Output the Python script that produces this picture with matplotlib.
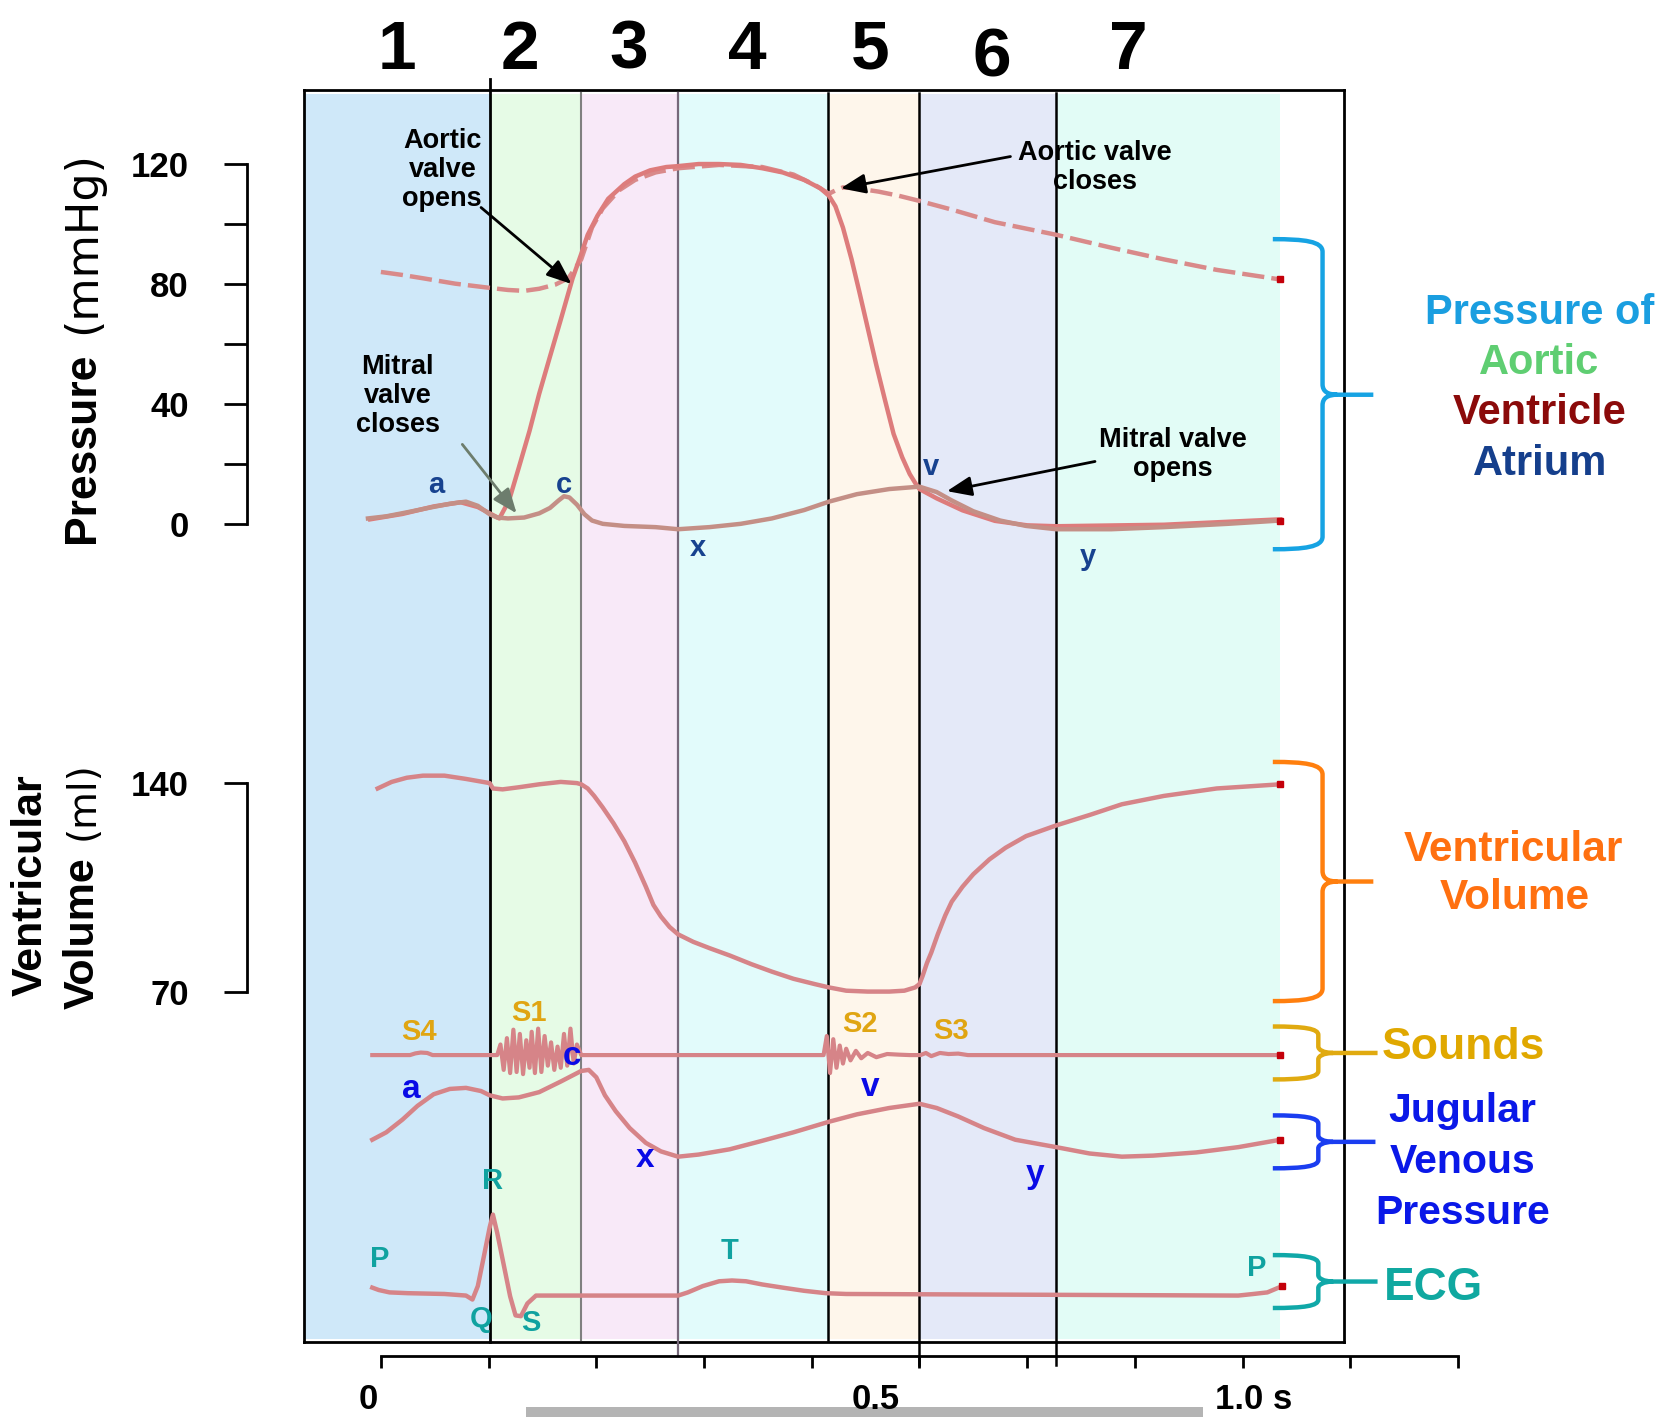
import matplotlib
matplotlib.use('Agg')
import matplotlib.pyplot as plt
from matplotlib import font_manager
from matplotlib.path import Path
from matplotlib.patches import PathPatch, Rectangle

# ---------------- data ----------------
phase_names = ['1', '2', '3', '4', '5', '6', '7']
phase_edges = [-0.072, 0.101, 0.186, 0.276, 0.415, 0.500, 0.627, 0.835]

# pressures, mmHg
t_aorta = [0.000, 0.020, 0.039, 0.069, 0.101, 0.118, 0.133, 0.147, 0.162, 0.174,
           0.186, 0.196, 0.206, 0.221, 0.236, 0.255, 0.276, 0.314, 0.354, 0.383,
           0.403, 0.416, 0.422, 0.429, 0.442, 0.462, 0.481, 0.500, 0.530, 0.570,
           0.627, 0.678, 0.727, 0.776, 0.835]
p_aorta = [84.0, 83.0, 81.9, 80.1, 78.7, 78.0, 77.7, 78.4, 79.8, 81.9,
           88.2, 98.8, 105.2, 111.2, 114.7, 117.2, 118.6, 119.7, 119.0, 116.5,
           113.0, 110.1, 111.2, 112.2, 111.9, 110.8, 109.4, 107.7, 104.8, 100.6,
           96.4, 92.1, 88.2, 84.7, 81.5]

t_ventricle = [-0.010, 0.020, 0.049, 0.074, 0.090, 0.101, 0.110, 0.119, 0.128, 0.138,
               0.147, 0.157, 0.167, 0.178, 0.186, 0.192, 0.201, 0.211, 0.226, 0.236,
               0.250, 0.265, 0.276, 0.295, 0.314, 0.334, 0.354, 0.373, 0.393, 0.408,
               0.416, 0.422, 0.429, 0.437, 0.444, 0.452, 0.460, 0.468, 0.476, 0.484,
               0.491, 0.497, 0.500, 0.516, 0.540, 0.570, 0.600, 0.627, 0.727, 0.835]
p_ventricle = [1.5, 3.3, 5.8, 7.2, 5.6, 3.5, 1.8, 7.8, 18.7, 31.0,
               43.4, 55.8, 68.1, 81.9, 90.0, 96.4, 102.7, 108.4, 113.3, 115.8,
               117.9, 119.0, 119.3, 120.0, 120.0, 119.7, 118.6, 117.2, 114.7, 111.9,
               109.4, 105.9, 98.8, 88.2, 77.7, 65.3, 52.9, 41.3, 30.0, 22.2,
               16.6, 13.1, 11.6, 8.5, 4.5, 1.0, -0.5, -0.8, -0.3, 1.5]

t_atrium = [-0.012, 0.005, 0.025, 0.044, 0.064, 0.079, 0.090, 0.101, 0.108, 0.118,
            0.133, 0.147, 0.157, 0.165, 0.170, 0.175, 0.182, 0.189, 0.196, 0.206,
            0.226, 0.255, 0.276, 0.305, 0.334, 0.363, 0.393, 0.416, 0.442, 0.472,
            0.500, 0.516, 0.530, 0.550, 0.575, 0.599, 0.627, 0.678, 0.727, 0.786,
            0.835]
p_atrium = [1.8, 2.5, 3.9, 5.3, 6.7, 7.4, 6.0, 3.2, 2.1, 1.8,
            2.1, 3.5, 5.3, 7.8, 9.2, 8.8, 6.4, 3.2, 1.1, 0.0,
            -0.7, -1.1, -1.8, -1.1, 0.0, 1.8, 4.6, 7.4, 9.9, 11.6,
            12.4, 10.6, 7.8, 4.2, 1.1, -0.7, -1.8, -1.8, -1.1, 0.0,
            1.1]

# ventricular volume, ml
t_volume = [-0.003, 0.010, 0.024, 0.039, 0.059, 0.079, 0.101, 0.104, 0.113, 0.128,
            0.147, 0.167, 0.182, 0.186, 0.192, 0.198, 0.206, 0.216, 0.226, 0.236,
            0.246, 0.253, 0.260, 0.268, 0.276, 0.290, 0.305, 0.324, 0.344, 0.363,
            0.383, 0.403, 0.416, 0.432, 0.452, 0.472, 0.486, 0.496, 0.500, 0.503,
            0.507, 0.511, 0.517, 0.524, 0.530, 0.540, 0.550, 0.565, 0.580, 0.599,
            0.627, 0.658, 0.688, 0.727, 0.776, 0.835]
v_volume = [138.2, 140.4, 141.8, 142.5, 142.5, 141.4, 140.0, 138.2, 137.9, 138.6,
            139.6, 140.4, 140.0, 139.6, 138.2, 135.7, 131.8, 126.5, 120.5, 113.3,
            105.2, 99.1, 95.2, 91.7, 89.2, 86.7, 84.6, 82.1, 79.2, 76.7,
            74.3, 72.5, 71.4, 70.3, 70.0, 70.0, 70.3, 71.4, 72.5, 75.3,
            79.6, 83.1, 89.2, 95.6, 100.2, 105.2, 109.4, 114.4, 118.3, 122.2,
            125.8, 129.3, 132.9, 135.7, 138.2, 139.6]

# heart sounds, relative amplitude
t_sound = [-0.008, 0.027, 0.032, 0.037, 0.043, 0.048, 0.101, 0.108, 0.111, 0.114,
           0.117, 0.120, 0.123, 0.126, 0.129, 0.132, 0.135, 0.138, 0.140, 0.143,
           0.146, 0.149, 0.152, 0.155, 0.158, 0.161, 0.164, 0.167, 0.170, 0.173,
           0.176, 0.179, 0.182, 0.186, 0.411, 0.414, 0.417, 0.420, 0.423, 0.426,
           0.429, 0.432, 0.436, 0.441, 0.446, 0.452, 0.460, 0.470, 0.481, 0.491,
           0.501, 0.506, 0.511, 0.519, 0.527, 0.536, 0.545, 0.835]
a_sound = [0.0, 0.0, 0.08, 0.12, 0.10, 0.0, 0.0, 0.0, 0.5, -0.7,
           0.8, -0.85, 1.2, -0.8, 1.0, -0.9, 0.7, -0.6, 1.1, -0.85,
           1.25, -0.8, 0.9, -0.5, 0.6, -0.7, 0.4, -0.6, 1.0, -0.5,
           1.25, -0.4, 0.5, 0.0, 0.0, 0.9, -0.85, 0.75, -0.6, 0.45,
           -0.4, 0.3, -0.25, 0.2, -0.15, 0.1, -0.1, 0.05, 0.02, 0.0,
           0.0, 0.1, -0.05, 0.1, 0.05, 0.07, 0.0, 0.0]

# jugular venous pressure, relative units
t_jvp = [-0.008, 0.005, 0.020, 0.034, 0.049, 0.064, 0.079, 0.093, 0.101, 0.113,
         0.128, 0.147, 0.167, 0.186, 0.193, 0.200, 0.208, 0.218, 0.231, 0.246,
         0.260, 0.276, 0.295, 0.324, 0.354, 0.383, 0.416, 0.442, 0.472, 0.500,
         0.516, 0.536, 0.560, 0.589, 0.627, 0.658, 0.688, 0.717, 0.757, 0.796,
         0.835]
v_jvp = [2.3, 3.0, 4.2, 5.5, 6.6, 7.1, 7.2, 6.9, 6.5, 6.2,
         6.3, 6.8, 7.8, 8.8, 8.9, 8.2, 6.5, 5.0, 3.4, 2.0,
         1.2, 0.7, 0.9, 1.4, 2.2, 3.0, 4.0, 4.7, 5.3, 5.7,
         5.3, 4.5, 3.4, 2.3, 1.6, 1.0, 0.7, 0.8, 1.1, 1.6,
         2.3]

# ECG, mV
t_ecg = [-0.008, -0.002, 0.008, 0.025, 0.059, 0.079, 0.085, 0.090, 0.096, 0.101,
         0.104, 0.108, 0.114, 0.120, 0.125, 0.130, 0.136, 0.144, 0.276, 0.285,
         0.299, 0.314, 0.326, 0.339, 0.354, 0.373, 0.393, 0.413, 0.432, 0.796,
         0.810, 0.823, 0.837]
v_ecg = [0.11, 0.08, 0.05, 0.04, 0.03, 0.01, -0.04, 0.13, 0.53, 0.87,
         1.03, 0.8, 0.4, 0.0, -0.24, -0.25, -0.09, 0.01, 0.01, 0.05,
         0.13, 0.19, 0.20, 0.19, 0.15, 0.11, 0.07, 0.04, 0.03, 0.01,
         0.03, 0.05, 0.13]

time_ticks = [0.0, 0.1, 0.2, 0.3, 0.4, 0.5, 0.6, 0.7, 0.8, 0.9, 1.0]
pressure_ticks = [0, 40, 80, 120]
pressure_minor = [20, 60, 100]
volume_ticks = [70, 140]

# ---------------- layout helpers (reference pixel grid) ----------------
W, H = 1568.0, 1339.0
T0_PX, PX_PER_S = 360.0, 1018.0


def px2t(x):
    return (x - T0_PX) / PX_PER_S


def fig_rect(x0, y0, x1, y1):
    return [x0 / W, 1 - y1 / H, (x1 - x0) / W, (y1 - y0) / H]


names = {f.name for f in font_manager.fontManager.ttflist}
BOLD = 'Liberation Sans' if 'Liberation Sans' in names else 'DejaVu Sans'

fig = plt.figure(figsize=(16.59, 14.17), dpi=100)

# frame with coloured phases
phase_colors = ['#cfe8f9', '#e6fbe6', '#f8e9f8', '#e2fbfb', '#fef6eb', '#e4e9f8', '#e2fcf6']
fr = fig.add_axes(fig_rect(287, 85, 1270, 1268), zorder=0)
fr.set_xlim(px2t(287), px2t(1270))
fr.set_ylim(0, 1)
fr.set_xticks([])
fr.set_yticks([])
for s in fr.spines.values():
    s.set_linewidth(2)
for i, c in enumerate(phase_colors):
    fr.axvspan(phase_edges[i], phase_edges[i + 1], ymin=0.002, ymax=0.997, color=c, lw=0)


def yfrac(ypx):
    return (1268 - ypx) / (1268 - 85)


line_specs = [(phase_edges[1], 'black', 2.0, 75, 1268),
              (phase_edges[2], '#808080', 1.5, 88, 1266),
              (phase_edges[3], '#76687a', 1.6, 88, 1281),
              (phase_edges[4], 'black', 1.8, 88, 1266),
              (phase_edges[5], 'black', 1.8, 88, 1290),
              (phase_edges[6], 'black', 1.8, 88, 1290)]
for t, c, lw, y0, y1 in line_specs:
    fr.axvline(t, ymin=yfrac(y1), ymax=yfrac(y0), color=c, lw=lw, clip_on=False, zorder=3)


def panel(v_a, y_a, v_b, y_b, lo, hi, z=2):
    k = (y_a - y_b) / (v_b - v_a)
    ytop = y_a - (hi - v_a) * k
    ybot = y_a + (v_a - lo) * k
    ax = fig.add_axes(fig_rect(233, ytop, 1270, ybot), zorder=z)
    ax.set_xlim(px2t(233), px2t(1270))
    ax.set_ylim(lo, hi)
    ax.patch.set_visible(False)
    for s in ax.spines.values():
        s.set_visible(False)
    ax.set_xticks([])
    ax.set_yticks([])
    return ax


TRACE = '#d68488'
LW = 3.2


def end_mark(ax, t, v):
    ax.plot(t[-1:], v[-1:], 's', ms=5, color='#c4000a', zorder=5)


def label(ax, t, v, s, color, size, **kw):
    ax.text(t, v, s, color=color, fontsize=size, fontfamily=BOLD, fontweight='bold',
            ha='center', va='center', **kw)


# ---------------- pressure panel ----------------
axp = panel(0, 495, 120, 155, -20, 135)
axp.plot(t_aorta, p_aorta, color='#d98a8a', lw=LW, ls=(0, (5, 1.6)))
axp.plot(t_ventricle, p_ventricle, color='#dd7c7c', lw=LW)
axp.plot(t_atrium, p_atrium, color='#c48f86', lw=LW)
end_mark(axp, t_aorta, p_aorta)
end_mark(axp, t_atrium, p_atrium)
axp.spines['left'].set_visible(True)
axp.spines['left'].set_linewidth(2)
axp.spines['left'].set_bounds(0, 120)
axp.set_yticks(pressure_ticks, labels=[str(v) for v in pressure_ticks],
               fontfamily=BOLD, fontweight='bold', fontsize=25)
axp.set_yticks(pressure_minor, minor=True)
axp.tick_params(axis='y', which='both', direction='out', length=16.5, width=2, pad=25)

navy = '#17428f'
for s, t, v in [('a', 0.051, 13), ('c', 0.170, 13), ('x', 0.294, -8), ('v', 0.511, 19), ('y', 0.656, -11)]:
    label(axp, t, v, s, navy, 21)

ann_kw = dict(fontsize=19.5, fontfamily=BOLD, fontweight='bold', ha='center', va='center',
              linespacing=1.15, zorder=6)
axp.text(0.057, 118, 'Aortic\nvalve\nopens', **ann_kw)
axp.text(0.0157, 42.7, 'Mitral\nvalve\ncloses', **ann_kw)
axp.text(0.663, 119, 'Aortic valve\ncloses', **ann_kw)
axp.text(0.735, 23, 'Mitral valve\nopens', **ann_kw)


def arrow(ax, xy, xyt, color='black'):
    ax.annotate('', xy=xy, xytext=xyt, annotation_clip=False,
                arrowprops=dict(arrowstyle='-|>,head_length=0.75,head_width=0.3', color=color,
                                lw=2, shrinkA=0, shrinkB=0, mutation_scale=20))


arrow(axp, (0.177, 80), (0.093, 105.5))
arrow(axp, (0.126, 3.5), (0.0756, 26.5), color='#6d7d6d')
arrow(axp, (0.427, 111.9), (0.5845, 122.5))
arrow(axp, (0.5255, 10.9), (0.663, 20.8))

# ---------------- volume panel ----------------
axv = panel(70, 937, 140, 740, 60, 150)
axv.plot(t_volume, v_volume, color=TRACE, lw=LW)
end_mark(axv, t_volume, v_volume)
axv.spines['left'].set_visible(True)
axv.spines['left'].set_linewidth(2)
axv.spines['left'].set_bounds(70, 140)
axv.set_yticks(volume_ticks, labels=[str(v) for v in volume_ticks],
               fontfamily=BOLD, fontweight='bold', fontsize=25)
axv.tick_params(axis='y', direction='out', length=16.5, width=2, pad=25)

# ---------------- sounds, JVP, ECG ----------------
axs = panel(0, 997, 1, 977, -1.5, 1.5, z=3)
axs.plot(t_sound, a_sound, color=TRACE, lw=3.0)
end_mark(axs, t_sound, a_sound)
gold = '#e0a512'
for s, t, v in [('S4', 0.035, 1.1), ('S1', 0.1375, 2.0), ('S2', 0.445, 1.45), ('S3', 0.529, 1.15)]:
    label(axs, t, v, s, gold, 21)

axj = panel(0, 1100, 10, 1000, -1, 11, z=4)
axj.plot(t_jvp, v_jvp, color=TRACE, lw=LW)
end_mark(axj, t_jvp, v_jvp)
blue = '#0a0ae6'
for s, t, v in [('a', 0.0285, 7.0), ('c', 0.177, 10.2), ('x', 0.245, 0.5), ('v', 0.454, 7.2), ('y', 0.607, -1.0)]:
    label(axj, t, v, s, blue, 24, zorder=6)

axe = panel(0, 1225, 1, 1150, -0.5, 1.3, z=2)
axe.plot(t_ecg, v_ecg, color=TRACE, lw=LW)
end_mark(axe, t_ecg, v_ecg)
teal = '#10a2a0'
for s, t, v in [('P', -0.001, 0.47), ('Q', 0.093, -0.28), ('R', 0.104, 1.45), ('S', 0.139, -0.33),
                ('T', 0.324, 0.57), ('P', 0.813, 0.36)]:
    label(axe, t, v, s, teal, 21)

# ---------------- time axis ----------------
axt = fig.add_axes(fig_rect(287, 1271, 1420, 1281), zorder=2)
axt.set_xlim(px2t(287), px2t(1420))
axt.patch.set_visible(False)
for k in ['top', 'left', 'right']:
    axt.spines[k].set_visible(False)
axt.spines['bottom'].set_linewidth(2)
axt.spines['bottom'].set_bounds(time_ticks[0], time_ticks[-1])
axt.set_yticks([])
axt.set_xticks(time_ticks, labels=[''] * len(time_ticks))
axt.tick_params(axis='x', direction='out', length=8.5, width=2)

# ---------------- overlay canvas: titles, labels, braces ----------------
cv = fig.add_axes([0, 0, 1, 1], zorder=5)
cv.set_xlim(0, W)
cv.set_ylim(H, 0)
cv.axis('off')

for s, x, y in zip(phase_names, [375, 491, 594, 706, 822, 937, 1066], [48, 48, 48, 48, 48, 55, 48]):
    label(cv, x, y, s, 'black', 50)

for s, x in [('0', 348), ('0.5', 828), ('1.0 s', 1185)]:
    label(cv, x, 1322, s, 'black', 25)
cv.add_patch(Rectangle((497, 1330), 640, 12, color='#b4b4b4', lw=0, clip_on=False))

cv.text(78, 423, 'Pressure', rotation=90, fontsize=32, fontfamily=BOLD, fontweight='bold',
        ha='center', va='center')
cv.text(78, 229, '(mmHg)', rotation=90, fontsize=32, fontfamily='DejaVu Sans',
        ha='center', va='center')
cv.text(29, 836, 'Ventricular', rotation=90, fontsize=31, fontfamily=BOLD, fontweight='bold',
        ha='center', va='center')
cv.text(78, 882, 'Volume', rotation=90, fontsize=31, fontfamily=BOLD, fontweight='bold',
        ha='center', va='center')
cv.text(78, 757, '(ml)', rotation=90, fontsize=28, fontfamily='DejaVu Sans',
        ha='center', va='center')


def brace(ax, y_top, y_bot, y_tip, color, x_left=1203, x_v=1250, x_tip=1298, r=10):
    verts = [(x_left, y_top), (x_left + 30, y_top), (x_v, y_top + 2), (x_v, y_top + r + 2),
             (x_v, y_tip - r),
             (x_v, y_tip - 3), (x_v + 5, y_tip), (x_v + 14, y_tip),
             (x_tip, y_tip),
             (x_v + 14, y_tip),
             (x_v + 5, y_tip), (x_v, y_tip + 3), (x_v, y_tip + r),
             (x_v, y_bot - r - 2),
             (x_v, y_bot - 2), (x_left + 30, y_bot), (x_left, y_bot)]
    codes = [Path.MOVETO, Path.CURVE4, Path.CURVE4, Path.CURVE4,
             Path.LINETO,
             Path.CURVE4, Path.CURVE4, Path.CURVE4,
             Path.LINETO,
             Path.MOVETO,
             Path.CURVE4, Path.CURVE4, Path.CURVE4,
             Path.LINETO,
             Path.CURVE4, Path.CURVE4, Path.CURVE4]
    ax.add_patch(PathPatch(Path(verts, codes), fill=False, edgecolor=color, lw=3.2,
                           capstyle='butt', joinstyle='round'))


brace(cv, 226, 519, 373, '#16a3e3')
brace(cv, 720, 946, 833, '#ff7f0e')
brace(cv, 970, 1020, 995, '#e0aa10', x_v=1246, x_tip=1302, r=6)
brace(cv, 1054, 1104, 1079, '#1a3df0', x_v=1246, x_tip=1300, r=6)
brace(cv, 1186, 1236, 1211, '#10a8a8', x_v=1246, x_tip=1302, r=6)

label(cv, 1455, 296, 'Pressure of', '#1a9ee0', 30)
label(cv, 1455, 343, 'Aortic', '#5fce72', 30)
label(cv, 1455, 390, 'Ventricle', '#8b0a0a', 30)
label(cv, 1456, 438, 'Atrium', '#153f8c', 30)
label(cv, 1430, 803, 'Ventricular', '#ff7010', 30.5)
label(cv, 1432, 849, 'Volume', '#ff7010', 30.5)
label(cv, 1383, 990, 'Sounds', '#e0a800', 32)
label(cv, 1382, 1050, 'Jugular', '#0a18e8', 29.5)
label(cv, 1382, 1098, 'Venous', '#0a18e8', 29.5)
label(cv, 1382, 1146, 'Pressure', '#0a18e8', 29.5)
label(cv, 1355, 1217, 'ECG', '#10a8a0', 33)

fig.savefig('out.png', dpi=100)
